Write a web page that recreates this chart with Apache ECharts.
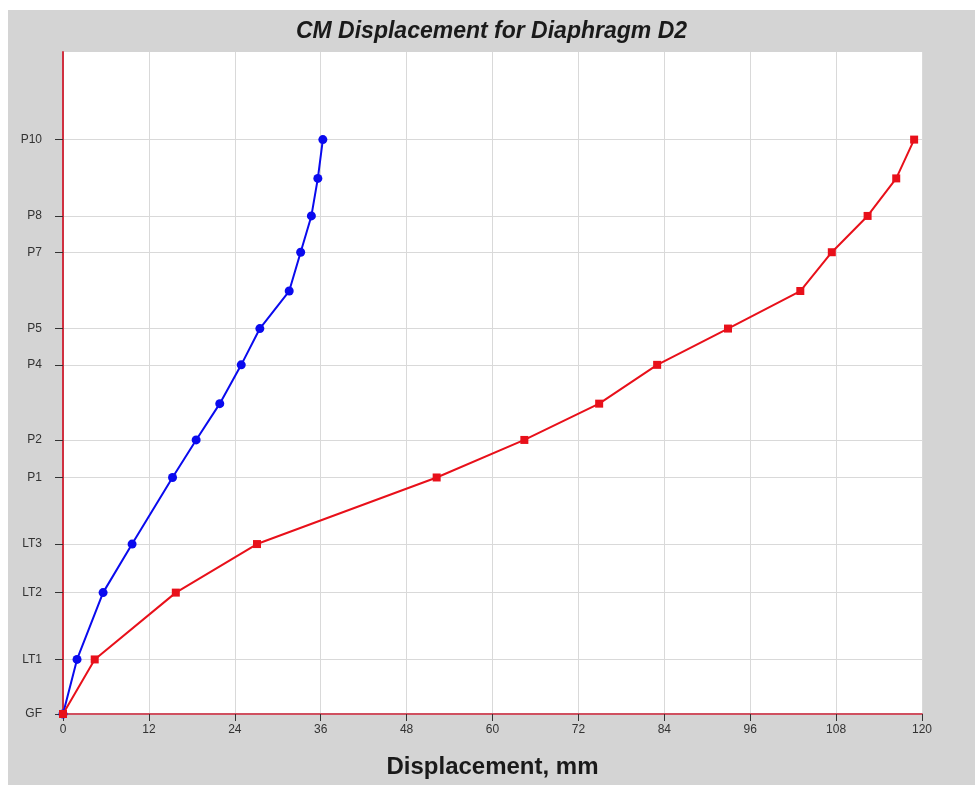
<!DOCTYPE html>
<html lang="en">
<head>
    <meta charset="UTF-8">
    <title>CM Displacement for Diaphragm D2</title>
    <script src="https://cdn.jsdelivr.net/npm/echarts@6.0.0/dist/echarts.min.js"></script>
    <style>
        body { margin: 0; background: #fff; }
        #chart { position: absolute; left: 8px; top: 10px; width: 967px; height: 775px; background: #d4d4d4; }
    </style>
</head>
<body>
<div id="chart"></div>
<script>
    // storey levels (elevation, m) and their names
    const levelNames = ["GF", "LT1", "LT2", "LT3", "P1", "P2", "P3", "P4", "P5", "P6", "P7", "P8", "P9", "P10"];
    const levelElev = [0, 4.36, 9.7, 13.58, 18.9, 21.9, 24.8, 27.9, 30.8, 33.8, 36.9, 39.8, 42.8, 45.9];
    // only these levels get a label / tick / grid line
    const labelledLevels = ["GF", "LT1", "LT2", "LT3", "P1", "P2", "P4", "P5", "P7", "P8", "P10"];

    // displacement, mm
    const blueDisp = [0, 1.96, 5.6, 9.65, 15.3, 18.6, 21.9, 24.9, 27.5, 31.6, 33.2, 34.7, 35.6, 36.3];
    const redDisp = [0, 4.43, 15.76, 27.1, 52.2, 64.45, 74.9, 83.0, 92.9, 103.0, 107.4, 112.4, 116.4, 118.9];

    const labelledValues = labelledLevels.map(n => levelElev[levelNames.indexOf(n)]);

    const chart = echarts.init(document.getElementById("chart"));
    const option = {
        animation: false,
        title: {
            text: "CM Displacement for Diaphragm D2",
            left: 'center',
            top: 5,
            textStyle: {
                fontFamily: 'Liberation Sans',
                fontSize: 23,
                fontWeight: 'bold',
                fontStyle: 'italic',
                color: '#1a1a1a'
            }
        },
        grid: {
            left: 55,
            right: 53,
            top: 42,
            bottom: 71,
            show: true,
            backgroundColor: '#ffffff',
            borderWidth: 0
        },
        xAxis: {
            type: 'value',
            min: 0,
            max: 120,
            interval: 12,
            name: "Displacement, mm",
            nameLocation: 'middle',
            nameGap: 41,
            nameTextStyle: {
                fontFamily: 'Liberation Sans',
                fontSize: 24,
                fontWeight: 'bold',
                color: '#1a1a1a'
            },
            axisLine: { show: true, lineStyle: { color: '#d05060', width: 2 } },
            axisTick: { show: true, length: 7, lineStyle: { color: '#333' } },
            axisLabel: { fontFamily: 'Liberation Sans', fontSize: 12, color: '#333', margin: 10 },
            splitLine: { show: true, lineStyle: { color: '#d9d9d9', width: 1 } }
        },
        yAxis: {
            type: 'value',
            min: 0,
            max: 52.9,
            axisLine: { show: true, lineStyle: { color: '#d03040', width: 2 } },
            axisTick: {
                show: true,
                length: 8,
                customValues: labelledValues,
                lineStyle: { color: '#333' }
            },
            axisLabel: {
                customValues: labelledValues,
                fontFamily: 'Liberation Sans',
                fontSize: 12,
                color: '#333',
                margin: 21,
                formatter: function (v) {
                    const i = levelElev.indexOf(v);
                    return i >= 0 ? levelNames[i] : '';
                }
            },
            splitLine: { show: true, lineStyle: { color: '#d9d9d9', width: 1 } }
        },
        series: [
            {
                name: "D2 blue",
                type: 'line',
                data: blueDisp.map((x, i) => [x, levelElev[i]]),
                symbol: 'circle',
                symbolSize: 9,
                itemStyle: { color: '#0a0aee' },
                lineStyle: { color: '#0a0aee', width: 2 }
            },
            {
                name: "D2 red",
                type: 'line',
                data: redDisp.map((x, i) => [x, levelElev[i]]),
                symbol: 'rect',
                symbolSize: 8,
                itemStyle: { color: '#e8101a' },
                lineStyle: { color: '#e8101a', width: 2 }
            }
        ]
    };
    chart.setOption(option);
</script>
</body>
</html>
